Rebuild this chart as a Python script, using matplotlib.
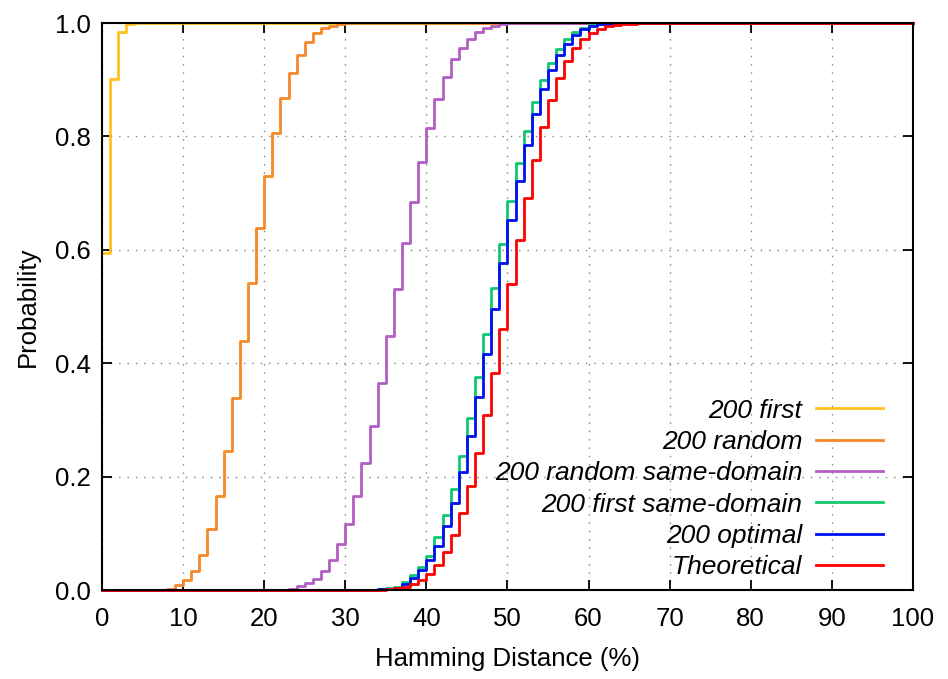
"""CDF of Hamming distance for several selections (gnuplot-like step chart)."""
import matplotlib
matplotlib.use('Agg')
import matplotlib.pyplot as plt

plt.rcParams['font.family'] = ['Liberation Sans', 'DejaVu Sans']

# values, one value per integer % (step starts at x)
first_x = [0, 1, 2, 3, 4, 100]
first_y = [0.594, 0.902, 0.985, 0.998, 1.0, 1.0]

random_x = [0] + list(range(8, 31)) + [100]
random_y = [0, 0.002, 0.009, 0.018, 0.034, 0.062, 0.107, 0.166, 0.246, 0.339,
            0.440, 0.541, 0.639, 0.731, 0.807, 0.868, 0.912, 0.944, 0.966,
            0.982, 0.991, 0.995, 0.998, 1.0, 1.0]

rand_sd_x = [0] + list(range(22, 51)) + [100]
rand_sd_y = [0, 0.0005, 0.002, 0.007, 0.012, 0.019, 0.034, 0.053, 0.081, 0.116,
             0.166, 0.224, 0.290, 0.366, 0.448, 0.531, 0.612, 0.685, 0.755,
             0.815, 0.866, 0.905, 0.937, 0.956, 0.972, 0.985, 0.991, 0.995,
             0.998, 1.0, 1.0]

first_sd_x = [0] + list(range(34, 63)) + [100]
first_sd_y = [0, 0.001, 0.003, 0.006, 0.015, 0.026, 0.041, 0.060, 0.094, 0.132,
              0.179, 0.236, 0.303, 0.375, 0.451, 0.532, 0.611, 0.687, 0.754,
              0.810, 0.860, 0.899, 0.930, 0.954, 0.972, 0.985, 0.991, 0.996,
              0.998, 1.0, 1.0]

optimal_x = [0] + list(range(34, 64)) + [100]
optimal_y = [0, 0.001, 0.002, 0.004, 0.010, 0.021, 0.035, 0.053, 0.078, 0.113,
             0.154, 0.208, 0.272, 0.341, 0.416, 0.496, 0.576, 0.653, 0.722,
             0.785, 0.840, 0.884, 0.918, 0.944, 0.963, 0.979, 0.989, 0.995,
             0.998, 0.999, 1.0, 1.0]

theo_x = [0] + list(range(32, 69)) + [100]
theo_y = [0, 0.0002, 0.0004, 0.0009, 0.0018, 0.0033, 0.0060, 0.0105, 0.0176,
          0.0284, 0.0443, 0.0666, 0.0967, 0.1356, 0.1841, 0.2421, 0.3086,
          0.3822, 0.4602, 0.5398, 0.6178, 0.6914, 0.7579, 0.8159, 0.8644,
          0.9033, 0.9334, 0.9557, 0.9716, 0.9824, 0.9895, 0.9940, 0.9967,
          0.9982, 0.9991, 0.9996, 0.9998, 1.0, 1.0]

series = [
    ('200 first', first_x, first_y, '#ffc020'),
    ('200 random', random_x, random_y, '#f5892a'),
    ('200 random same-domain', rand_sd_x, rand_sd_y, '#b25ec2'),
    ('200 first same-domain', first_sd_x, first_sd_y, '#10c870'),
    ('200 optimal', optimal_x, optimal_y, '#0010f0'),
    ('Theoretical', theo_x, theo_y, '#ff0000'),
]

fig = plt.figure(figsize=(9.48, 6.79), dpi=100)
ax = fig.add_axes([0.1076, 0.131, 0.8554, 0.835])

for label, xs, ys, color in series:
    ax.plot(xs, ys, drawstyle='steps-post', color=color, lw=2.0,
            label=label, clip_on=False)

ax.set_xlim(0, 100)
ax.set_ylim(0, 1.0)
ax.set_xticks(range(0, 101, 10))
ax.set_yticks([0, 0.2, 0.4, 0.6, 0.8, 1.0])
ax.set_yticklabels(['0.0', '0.2', '0.4', '0.6', '0.8', '1.0'])
ax.tick_params(direction='in', length=7, width=1.3, top=True, right=True,
               labelsize=18.5)
ax.tick_params(axis='x', pad=12)
ax.tick_params(axis='y', pad=8)
for sp in ax.spines.values():
    sp.set_linewidth(1.5)

ax.grid(True, color='#808080', linestyle=(0, (1, 5)), linewidth=1.0)
ax.set_axisbelow(True)

ax.set_xlabel('Hamming Distance (%)', fontsize=18.5, labelpad=12)
ax.set_ylabel('Probability', fontsize=18.5, labelpad=11)

ax.legend(loc='lower right', frameon=False, markerfirst=False,
          prop={'style': 'italic', 'size': 19}, handlelength=2.55,
          handletextpad=0.5, labelspacing=0.28, borderaxespad=0.0,
          bbox_to_anchor=(0.976, 0.0))

fig.savefig('out.png', dpi=100)
